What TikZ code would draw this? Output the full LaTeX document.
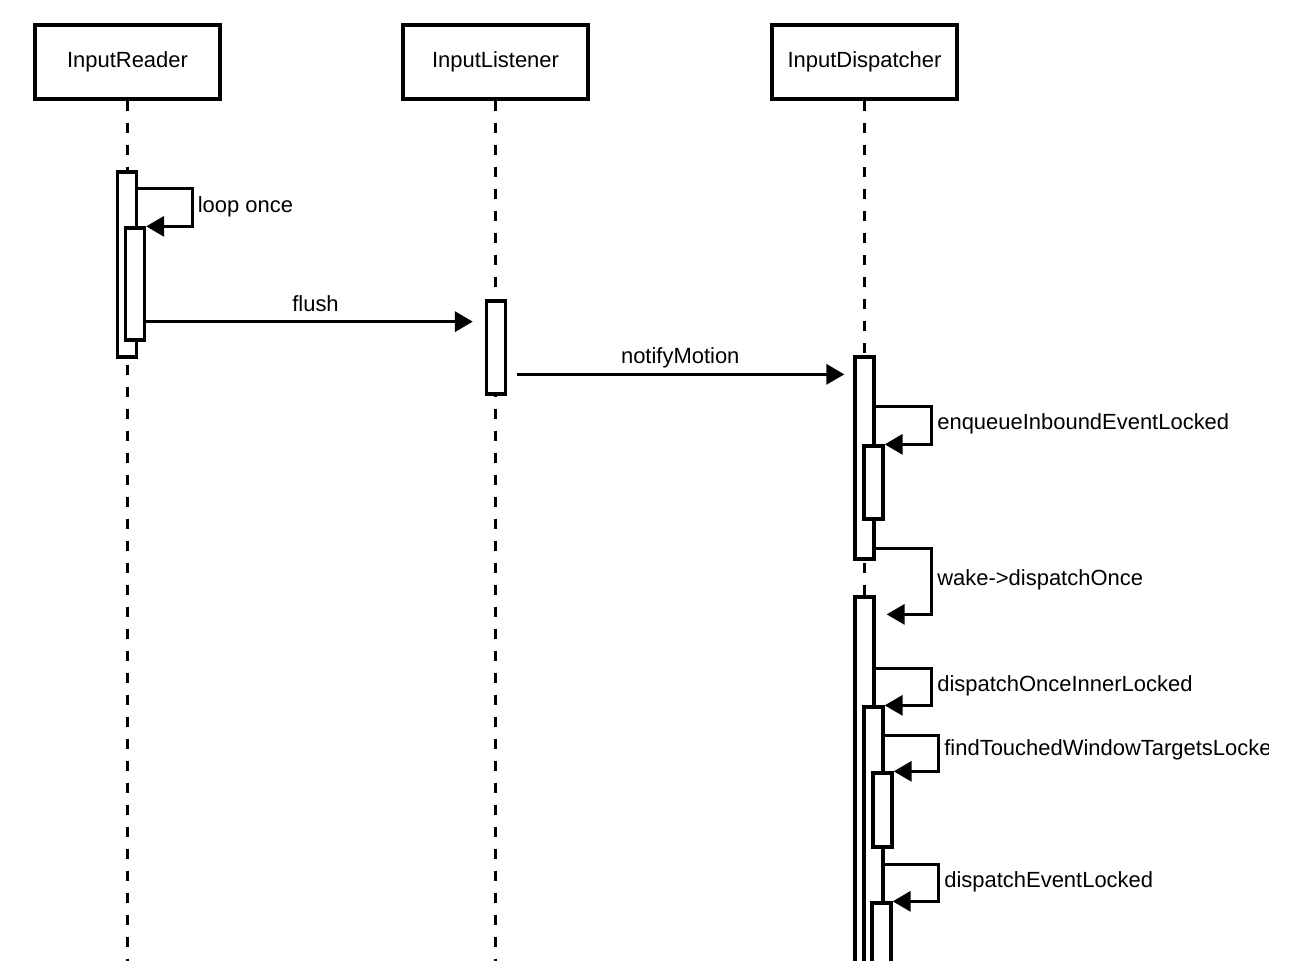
\documentclass[tikz,border=0pt]{standalone}
\usepackage{fontspec}
\setmainfont{Liberation Sans}
\usetikzlibrary{arrows.meta}
\tikzset{lifebox/.style={draw,line width=1.9pt,minimum width=3.7cm,minimum height=1.48cm,font=\fontsize{12.5}{15}\selectfont},
 act/.style={draw,fill=white,line width=1.9pt,minimum width=0.38cm,inner sep=0pt},
 life/.style={line width=1.9pt,dash pattern=on 0.2cm off 0.24cm},
 msg/.style={line width=1.9pt,-{Triangle[length=0.36cm,width=0.4cm]}},
 msglbl/.style={above=0.18cm,inner sep=0pt,text depth=0pt,font=\fontsize{12.5}{15}\selectfont},
 lbl/.style={anchor=west,inner sep=0pt,xshift=0.08cm,yshift=-0.06cm,font=\fontsize{12.5}{15}\selectfont}}

\begin{document}
\begin{tikzpicture}[x=0.02cm,y=-0.02cm]
\useasboundingbox (0,0) rectangle (1298,960);
\clip (0,0) rectangle (1298,960);
\node[lifebox] (reader) at (127.5,62) {InputReader};
\node[lifebox] (listener) at (495.5,62) {InputListener};
\node[lifebox] (dispatcher) at (864.5,62) {InputDispatcher};
\draw[life] (reader.south) -- ++(0,900);
\draw[life] (listener.south) -- ++(0,900);
\draw[life] (dispatcher.south) -- ++(0,900);
% activations
\node[act,minimum height=3.7cm] (r1) at (127,264.5) {};
\node[act,minimum height=2.24cm] (r2) at (135,284) {};
\node[act,minimum height=1.86cm] (l1) at (496,347.5) {};
\node[act,minimum height=4.04cm] (d1) at (864.5,458) {};
\node[act,minimum height=1.46cm] (d2) at (873.5,482.5) {};
\node[act,minimum height=8.06cm] (d3) at (864.5,798.5) {};
\node[act,minimum height=5.86cm] (d4) at (873.5,853.5) {};
\node[act,minimum height=1.48cm] (d5) at (882.5,810) {};
\node[act,minimum height=1.94cm] (d6) at (881.5,951.5) {};
% messages
\draw[msg] ([yshift=-0.36cm]r1.north east) -- ++(54,0) |- (r2.north east) node[lbl,pos=0.2] {loop once};
\draw[msg,shorten >=0.24cm] ([yshift=0.4cm]r2.south east) -- ([yshift=0.4cm]r2.south east -| l1.west) node[msglbl,midway] {flush};
\draw[msg,shorten <=0.2cm,shorten >=0.18cm] ([yshift=-0.38cm]d1.north west -| l1.east) -- ([yshift=-0.38cm]d1.north west) node[msglbl,midway] {notifyMotion};
\draw[msg] ([yshift=-1.02cm]d1.north east) -- ++(56,0) |- (d2.north east) node[lbl,pos=0.185] {enqueueInboundEventLocked};
\draw[msg] ([yshift=0.24cm]d1.south east) -- ++(56,0) |- ([xshift=0.22cm,yshift=-0.38cm]d3.north east) node[lbl,pos=0.215] {wake->dispatchOnce};
\draw[msg] ([yshift=-1.46cm]d3.north east) -- ++(56,0) |- (d4.north east) node[lbl,pos=0.19] {dispatchOnceInnerLocked};
\begin{scope}
\clip (0,0) rectangle (1268,960);
\draw[msg] ([yshift=-0.6cm]d4.north east) -- ++(54,0) |- (d5.north east) node[lbl,pos=0.165] {findTouchedWindowTargetsLocked};
\end{scope}
\draw[msg] ([yshift=-3.18cm]d4.north east) -- ++(54,0) |- (d6.north east) node[lbl,pos=0.19] {dispatchEventLocked};
\end{tikzpicture}
\end{document}
